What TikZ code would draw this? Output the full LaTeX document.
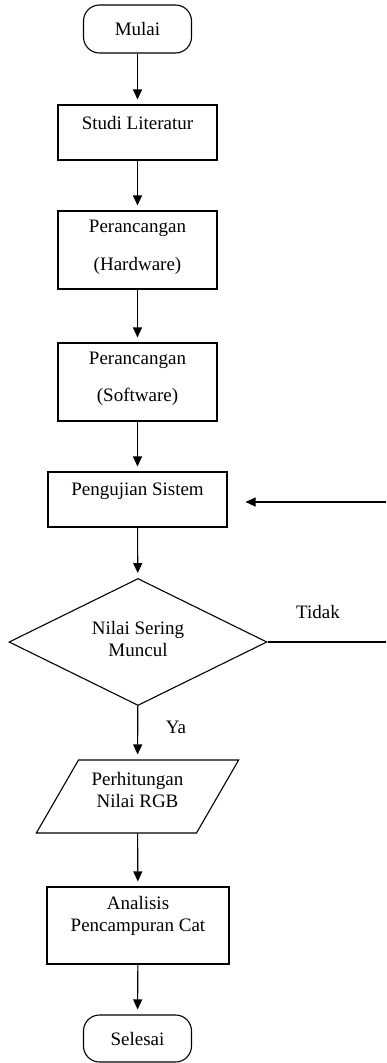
\documentclass[tikz,border=0pt]{standalone}
\usepackage{fontspec}
\setmainfont{Liberation Serif}
\usetikzlibrary{shapes.geometric, arrows.meta}

\tikzset{
    terminal/.style={draw, rectangle, rounded corners=16pt, minimum width=108pt, minimum height=48pt, inner sep=0pt},
    box/.style={draw, rectangle, minimum width=159pt, minimum height=78pt, inner sep=0pt},
    decision/.style={draw, diamond, minimum width=258pt, minimum height=127pt, inner sep=0pt},
    io/.style={draw, trapezium, trapezium left angle=60, trapezium right angle=120, inner xsep=59pt, inner ysep=36.5pt},
    txt/.style={align=center, inner sep=0pt},
    flow/.style={->, shorten >=5pt}
}

\begin{document}
\begin{tikzpicture}[x=1pt, y=-1pt, line width=1.1pt, font=\fontsize{19}{22}\selectfont, >={Triangle[length=10pt,width=9pt]}]
	    \useasboundingbox (0,0) rectangle (386,1063);

	    \node[terminal] at (137.5, 29) (mulai) {Mulai};
	    \node[box, minimum height=55pt] at (137.5, 132.5) (studi) {};
	    \node[box] at (137.5, 250) (hw) {};
	    \node[box] at (137.5, 382) (sw) {};
	    \node[box, minimum width=179pt, minimum height=55pt] at (137.5, 499.5) (uji) {};
	    \node[decision] at (138, 642) (cek) {};
	    \node[io] at (137.5, 796.5) (rgb) {};
	    \node[box, minimum width=182pt, minimum height=77pt] at (138, 925.5) (analisis) {};
	    \node[terminal, minimum height=47pt] at (137.5, 1038.5) (selesai) {Selesai};

	    % teks di dalam kotak
	    \node[txt] at (137.5, 122.5) (studiT) {Studi Literatur};
	    \node[txt] at (137.5, 247) (hwT) {Perancangan\\[16pt](Hardware)};
	    \node[txt] at (137.5, 378.5) (swT) {Perancangan\\[15pt](Software)};
	    \node[txt] at (137.5, 491) (ujiT) {Pengujian Sistem};
	    \node[txt] at (138, 639) (cekT) {Nilai Sering\\Muncul};
	    \node[txt] at (137.5, 789.5) (rgbT) {Perhitungan\\Nilai RGB};
	    \node[txt] at (138, 916) (analisisT) {Analisis\\Pencampuran Cat};

	    \node[txt] at (318, 612) (tidak) {Tidak};
	    \node[txt] at (176, 727) (ya) {Ya};

	    \coordinate (balikA) at (386, 642);
	    \coordinate (balikB) at (386, 502);

	    \draw[flow] (mulai) -- (studi);
	    \draw[flow] (studi) -- (hw);
	    \draw[flow] (hw) -- (sw);
	    \draw[flow] (sw) -- (uji);
	    \draw[flow] (uji) -- (cek);
	    \draw[flow] (cek) -- (rgb);
	    \draw[flow] (rgb) -- (analisis);
	    \draw[flow] (analisis) -- (selesai);

	    \draw (cek.east) -- (balikA);
	    \draw[->, shorten >=18pt] (balikB) -- (balikB -| uji.east);

	    \end{tikzpicture}
\end{document}
